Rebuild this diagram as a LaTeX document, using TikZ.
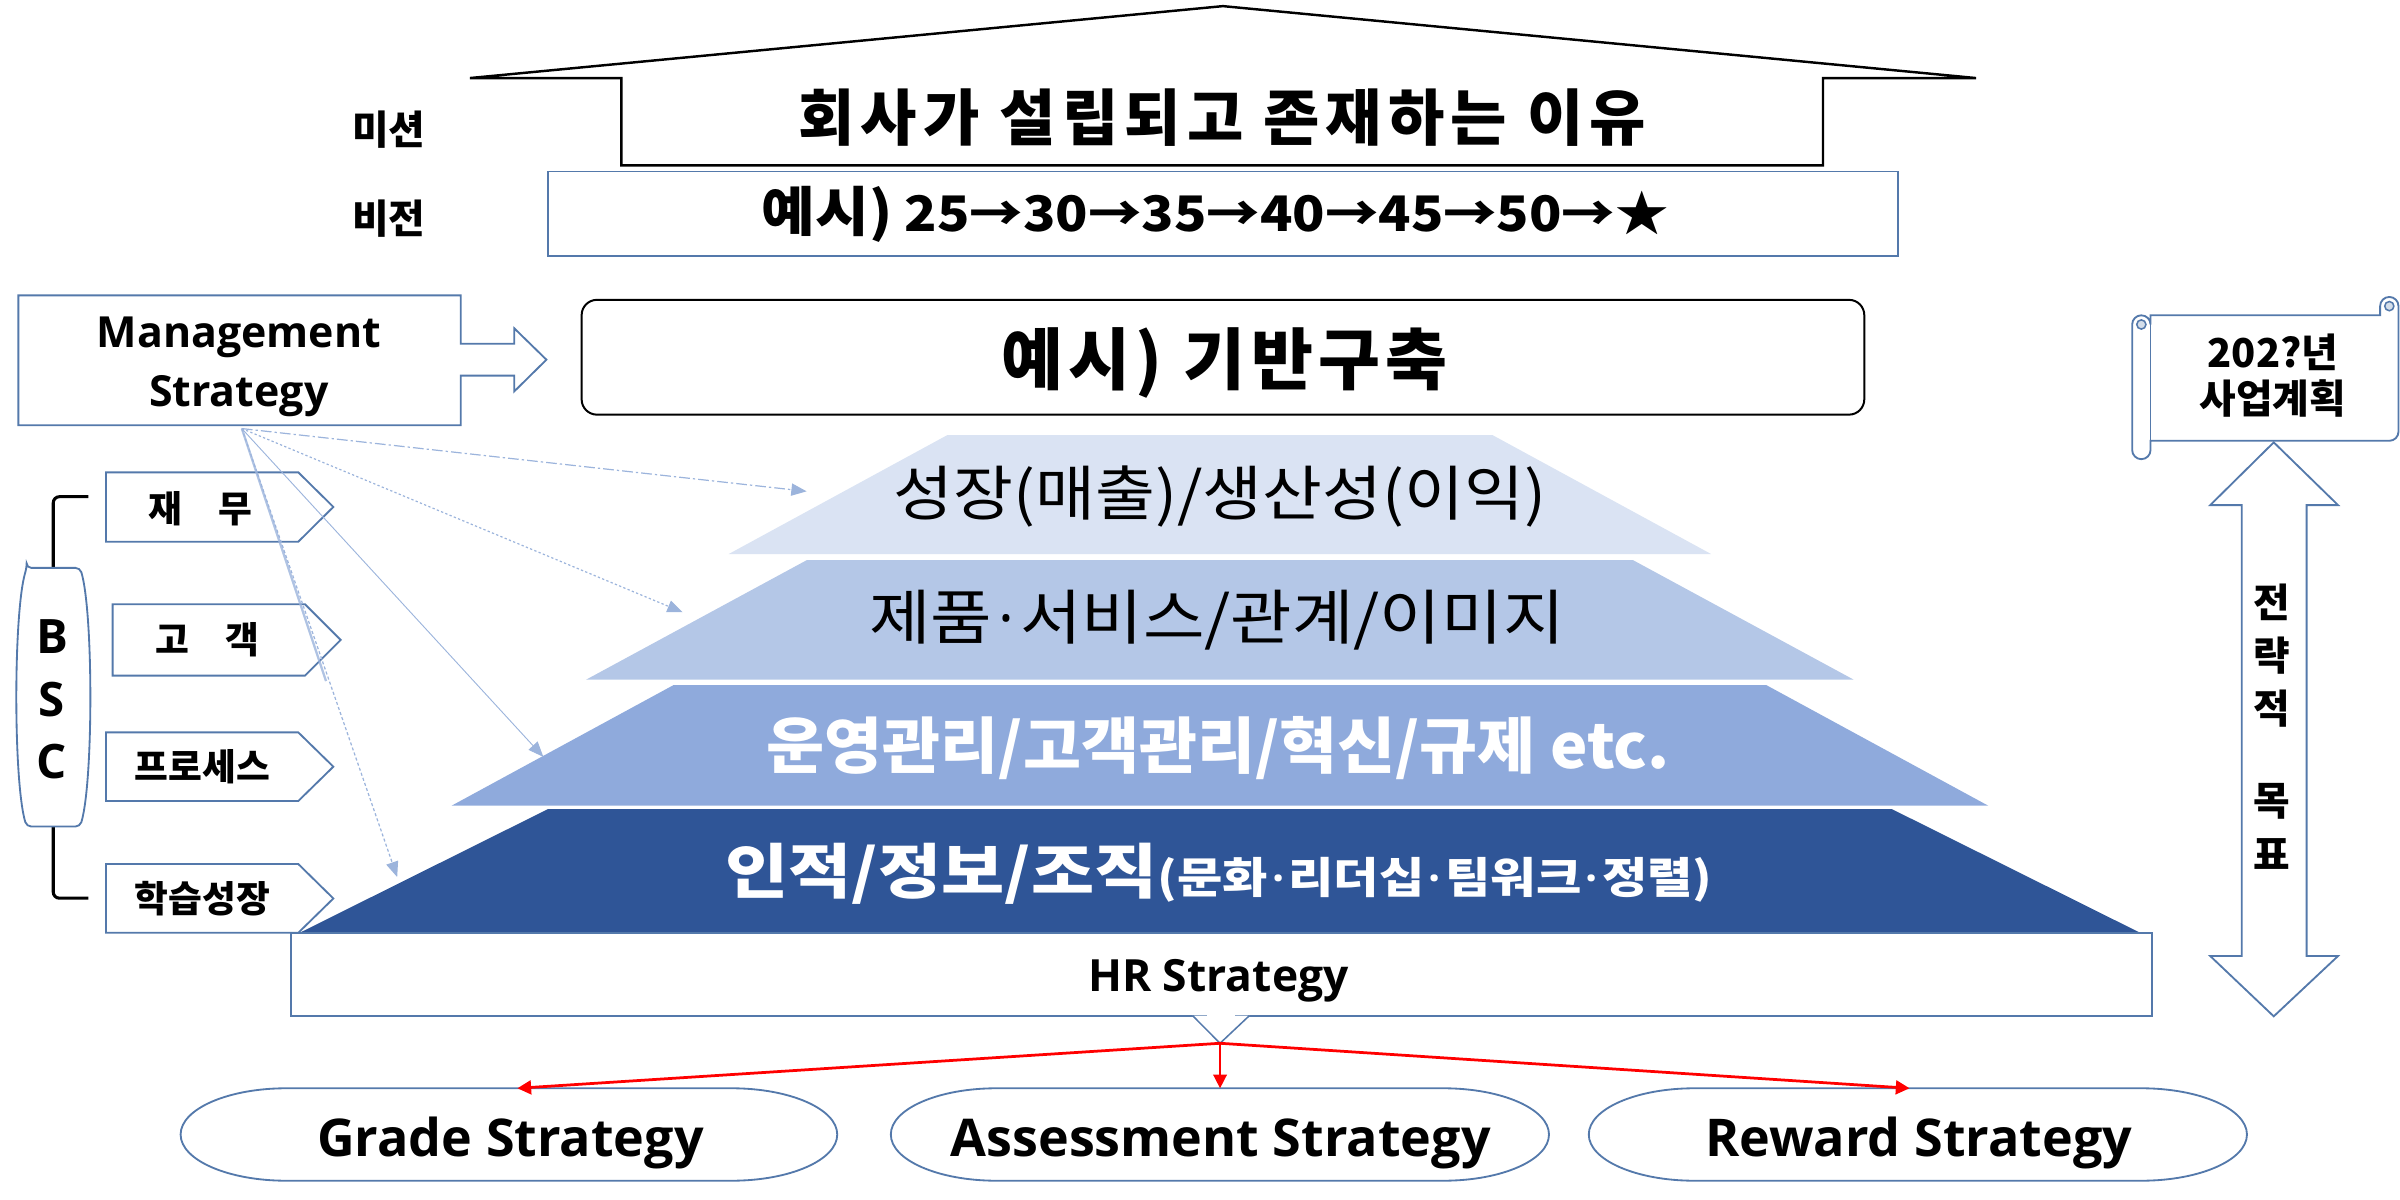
\documentclass[tikz,border=0pt]{standalone}
\usepackage{fontspec}
\setmainfont{Noto Sans CJK KR}
\newfontfamily\latinfont{Open Sans}
\usetikzlibrary{arrows.meta}
\definecolor{boxblue}{HTML}{5479AB}
\definecolor{tierA}{HTML}{DAE3F3}
\definecolor{tierB}{HTML}{B4C7E7}
\definecolor{tierC}{HTML}{8FAADC}
\definecolor{tierD}{HTML}{2F5597}
\definecolor{linkblue}{HTML}{9CB4DC}
\newcommand{\setfs}[1]{\fontsize{#1}{#1}\selectfont}
% narrow middle dot between Korean words
\newcommand{\mdot}{\kern0.1em{\latinfont ·}\kern0.1em}
\newcommand{\wide}[1]{\addfontfeature{FakeStretch=#1}}

\begin{document}
\begin{tikzpicture}[x=1pt,y=-1pt,
  outline/.style={draw=boxblue, line width=1.2pt, fill=white},
  kr/.style={inner sep=0pt, font=\bfseries\setfs{#1}},
  krlight/.style={inner sep=0pt, font=\setfs{#1}},
  lat/.style={inner sep=0pt, font=\latinfont\bfseries\setfs{#1}},
  link/.style={draw=linkblue, line width=0.8pt,
    -{Triangle[length=10pt,width=8pt]}},
  redlink/.style={draw=red, -{Triangle[length=9pt,width=9pt]}},
  tier/.style={fill=#1, draw=none}]
\useasboundingbox (0,0) rectangle (1568,784);

% ---------- mission roof ----------
\draw[black, line width=1.6pt, fill=white, line join=miter]
  (307,51) -- (799,4) -- (1291,51) -- (1191,51) -- (1191,108)
  -- (406,108) -- (406,51) -- cycle;
\node[kr=40] (mission) at (798.5,77)
  {\addfontfeature{LetterSpace=10}회사가 설립되고 존재하는 이유};
\node[kr=26] (missionlbl) at (254,85) {미션};
\node[kr=26] (visionlbl) at (254,143) {비전};

% ---------- vision ----------
\node[outline, minimum width=882pt, minimum height=55pt] (vision) at (799,139.5) {};
\node[kr=32, anchor=center] (visiontext) at (794,140)
  {\wide{1.09}{\setfs{35}예시)} 25→30→35→40→45→50→★};

% ---------- management strategy callout ----------
\draw[outline, line join=miter]
  (12,193) -- (301,193) -- (301,224.6) -- (336,224.6) -- (336,214.5)
  -- (357,235) -- (336,255.7) -- (336,245.4) -- (301,245.4)
  -- (301,277.8) -- (12,277.8) -- cycle;
\node[lat=28, anchor=base] (ms1) at (156,226.9) {Management};
\node[lat=28, anchor=base] (ms2) at (156,265.4) {Strategy};

% ---------- strategy banner ----------
\node[draw=black, line width=1.3pt, fill=white, rounded corners=10pt,
  minimum width=838pt, minimum height=75pt] (banner) at (799,233.4) {};
\node[kr=44] (bannertext) at (800,237)
  {\addfontfeature{LetterSpace=8}예시) 기반구축};

% ---------- pyramid ----------
\fill[tier=tierA] (619,284.2) -- (975,284.2) -- (1118,362) -- (476,362) -- cycle;
\fill[tier=tierB] (527,366) -- (1067,366) -- (1211,444) -- (383,444) -- cycle;
\fill[tier=tierC] (440,447.6) -- (1154,447.6) -- (1299,526.4) -- (295,526.4) -- cycle;
\fill[tier=tierD] (358,528.6) -- (1236,528.6) -- (1399,609.8) -- (195,609.8) -- cycle;

\node[krlight=39] (tier1) at (797,324.5) {\wide{1.09}성장(매출)/생산성(이익)};
\node[krlight=39] (tier2) at (795,405) {\wide{1.12}제품\mdot 서비스/관계/이미지};
\node[kr=40, text=white] (tier3) at (796,488.4) {\wide{1.03}운영관리/고객관리/혁신/규제 etc.};
\node[kr=39, text=white] (tier4) at (796.5,571)
  {\wide{1.15}인적/정보/조직{\setfs{28}(문화\mdot 리더십\mdot 팀워크\mdot 정렬)}};

% ---------- BSC ----------
\draw[black, line width=2pt, rounded corners=4pt]
  (57.7,324.5) -- (34.8,324.5) -- (34.8,586.8) -- (57.7,586.8);
\draw[outline, rounded corners=3pt]
  (17.4,371) -- (52.3,371) .. controls (61,400) and (61,511) .. (52.3,540)
  -- (17.4,540) .. controls (8.7,511) and (8.7,400) .. (17.4,371) -- cycle;
\node[lat=31, align=center, font=\latinfont\bfseries\fontsize{31}{41}\selectfont]
  (bsc) at (34,457) {B\\S\\C};

\draw[outline, line join=miter] (69.3,308.6) -- (194.9,308.6) -- (217.8,331.2)
  -- (194.9,353.9) -- (69.3,353.9) -- cycle;
\draw[outline, line join=miter] (73.6,394.8) -- (199.3,394.8) -- (222.6,418.1)
  -- (199.3,441.4) -- (73.6,441.4) -- cycle;
\draw[outline, line join=miter] (69.3,478.5) -- (194.9,478.5) -- (217.8,500.9)
  -- (194.9,523.3) -- (69.3,523.3) -- cycle;
\draw[outline, line join=miter] (69.3,564.5) -- (194.9,564.5) -- (217.8,587)
  -- (194.9,609.4) -- (69.3,609.4) -- cycle;
\node[kr=24] (finance) at (131,332.5) {재\hspace{1em}무};
\node[kr=24] (customer) at (135.6,418) {고\hspace{1em}객};
\node[kr=24] (process) at (132.3,501) {프로세스};
\node[kr=24] (learning) at (132.3,587) {학습성장};

% ---------- links from management strategy ----------
\coordinate (msfoot) at (158,280);
\coordinate (t1) at (527,321);
\coordinate (t2) at (446,400);
\coordinate (t3) at (355,494.5);
\coordinate (t4) at (259.5,573);
\coordinate (tail) at (213,445);
\draw[link, dash pattern=on 7pt off 2pt on 1.5pt off 2pt] (msfoot) -- (t1);
\draw[link, dash pattern=on 1.5pt off 1.5pt] (msfoot) -- (t2);
\draw[link, line width=0.6pt] (msfoot) -- (t3);
\draw[link, dash pattern=on 2pt off 1.5pt] (msfoot) -- (t4);
\draw[draw=linkblue, line width=1.5pt, opacity=0.8] (msfoot) -- (tail);

% ---------- business plan scroll ----------
\draw[outline]
  (1405,206) -- (1555,206) -- (1555,200) arc[start angle=180, end angle=0, radius=6pt]
  -- (1567,282) arc[start angle=0, end angle=-90, radius=6pt]
  -- (1405,288) -- (1405,294) arc[start angle=0, end angle=-180, radius=6pt]
  -- (1393,212) arc[start angle=180, end angle=0, radius=6pt] -- cycle;
\draw[boxblue, line width=1.2pt] (1405,212) -- (1405,288);
\draw[boxblue, line width=1pt, fill=boxblue!25] (1561,200) circle[radius=3pt];
\draw[boxblue, line width=1pt, fill=boxblue!25] (1399,212) circle[radius=3pt];
\node[kr=26] (plan1) at (1485,230) {202?년};
\node[kr=26] (plan2) at (1485,260.4) {사업계획};

% ---------- strategic goal double arrow ----------
\draw[outline, line join=miter]
  (1485.5,289) -- (1527.5,330) -- (1507,330) -- (1507,624.6) -- (1527.5,624.6)
  -- (1485.5,664) -- (1444,624.6) -- (1464.6,624.6) -- (1464.6,330) -- (1444,330) -- cycle;
\node[kr=26, align=center, font=\bfseries\fontsize{26}{34.9}\selectfont]
  (goal) at (1484,474.5) {전\\략\\적\\[25pt]목\\표};

% ---------- HR strategy ----------
\node[outline, minimum width=1215.7pt, minimum height=54pt] (hr) at (797.85,636.6) {};
\node[lat=29, anchor=base] (hrtext) at (796,648) {HR Strategy};
\coordinate (hrtip) at (797.1,681.6);
\fill[white] (779.2,663.6) -- (hrtip) -- (816.2,663.6) -- cycle;
\draw[white, line width=2pt] (788.6,663.6) -- (806.8,663.6);
\draw[boxblue, line width=1pt] (779.2,663.6) -- (hrtip) -- (816.2,663.6);

% ---------- HR sub-strategies ----------
\draw[outline] (187,711) -- (478,711)
  arc[start angle=90, end angle=-90, x radius=69pt, y radius=30.2pt]
  -- (187,771.4) arc[start angle=270, end angle=90, x radius=69pt, y radius=30.2pt] -- cycle;
\draw[outline] (651,711) -- (943,711)
  arc[start angle=90, end angle=-90, x radius=69pt, y radius=30.2pt]
  -- (651,771.4) arc[start angle=270, end angle=90, x radius=69pt, y radius=30.2pt] -- cycle;
\draw[outline] (1107,711) -- (1399,711)
  arc[start angle=90, end angle=-90, x radius=69pt, y radius=30.2pt]
  -- (1107,771.4) arc[start angle=270, end angle=90, x radius=69pt, y radius=30.2pt] -- cycle;
\coordinate (gradetop) at (338,711);
\coordinate (assesstop) at (797.1,711);
\coordinate (rewardtop) at (1247.6,711);
\node[lat=34, anchor=base] (grade) at (333.5,755.7) {Grade Strategy};
\node[lat=34, anchor=base] (assess) at (797.5,755.7) {Assessment Strategy};
\node[lat=34, anchor=base] (reward) at (1253.5,755.7) {Reward Strategy};

\draw[redlink, line width=1.8pt] (hrtip) -- (gradetop);
\draw[redlink, line width=1pt] (hrtip) -- (assesstop);
\draw[redlink, line width=1.8pt] (hrtip) -- (rewardtop);
\end{tikzpicture}
\end{document}
